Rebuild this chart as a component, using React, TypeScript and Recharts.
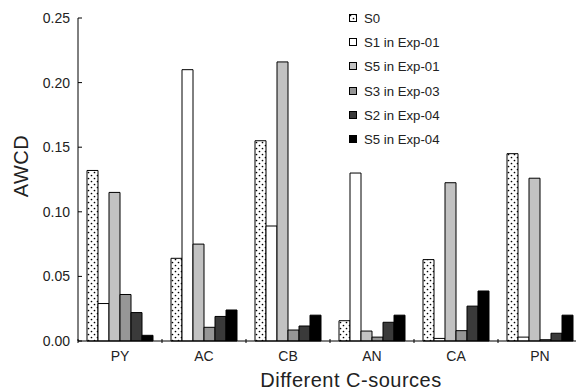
import React from "react";
import { BarChart, Bar, XAxis, YAxis } from "recharts";

const categories = ["PY", "AC", "CB", "AN", "CA", "PN"];
const s0 = [0.132, 0.064, 0.155, 0.0157, 0.063, 0.145];
const s1Exp01 = [0.029, 0.21, 0.089, 0.13, 0.002, 0.003];
const s5Exp01 = [0.115, 0.075, 0.216, 0.0077, 0.1225, 0.126];
const s3Exp03 = [0.036, 0.0106, 0.0085, 0.003, 0.008, 0.001];
const s2Exp04 = [0.022, 0.019, 0.0116, 0.0145, 0.027, 0.006];
const s5Exp04 = [0.0044, 0.024, 0.02, 0.02, 0.0387, 0.02];
const yTicks = [0, 0.05, 0.1, 0.15, 0.2, 0.25];

const seriesDefs = [
  { key: "s0", name: "S0", fill: "url(#dots)", values: s0 },
  { key: "s1", name: "S1 in Exp-01", fill: "#ffffff", values: s1Exp01 },
  { key: "s5a", name: "S5 in Exp-01", fill: "#c2c2c2", values: s5Exp01 },
  { key: "s3", name: "S3 in Exp-03", fill: "#969696", values: s3Exp03 },
  { key: "s2", name: "S2 in Exp-04", fill: "#3a3a3a", values: s2Exp04 },
  { key: "s5b", name: "S5 in Exp-04", fill: "#000000", values: s5Exp04 },
];

const data = categories.map((c, i) => {
  const row: any = { cat: c };
  seriesDefs.forEach((s) => (row[s.key] = s.values[i]));
  return row;
});

const FONT = "Liberation Sans, Arial, Helvetica, sans-serif";
const CHART_W = 600;
const CHART_H = 390;
const M_LEFT = 78;
const M_RIGHT = 18;
const BAND = (CHART_W - M_LEFT - M_RIGHT) / categories.length;

const XTick = (props: any) => {
  const { x, y, payload } = props;
  const bx = x - BAND / 2;
  return (
    <g>
      <line x1={bx} x2={bx} y1={y} y2={y - 4} stroke="#000" strokeWidth={1} />
      <text x={x} y={y + 18} textAnchor="middle" fontSize={14} fontFamily={FONT} fill="#222">
        {payload.value}
      </text>
    </g>
  );
};

const YTick = (props: any) => {
  const { x, y, payload } = props;
  return (
    <g>
      <line x1={M_LEFT} x2={M_LEFT + 4} y1={y} y2={y} stroke="#000" strokeWidth={1} />
      <text x={x} y={y + 5} textAnchor="end" fontSize={14} fontFamily={FONT} fill="#222">
        {payload.value.toFixed(2)}
      </text>
    </g>
  );
};

const XTitle = () => (
  <text
    x={351}
    y={387}
    textAnchor="middle"
    fontSize={20}
    letterSpacing={0.5}
    fontFamily={FONT}
    fill="#222"
  >
    Different C-sources
  </text>
);

const YTitle = () => (
  <text
    x={28}
    y={166}
    transform="rotate(-90 28 166)"
    textAnchor="middle"
    fontSize={20}
    letterSpacing={0.5}
    fontFamily={FONT}
    fill="#222"
  >
    AWCD
  </text>
);

const LegendBox = () => (
  <div
    style={{
      position: "absolute",
      left: 349,
      top: 6,
      fontFamily: FONT,
      fontSize: 13.2,
      color: "#222",
    }}
  >
    {seriesDefs.map((s) => (
      <div key={s.key} style={{ display: "flex", alignItems: "center", height: 24.3 }}>
        <svg width={9} height={9} style={{ marginRight: 6 }}>
          <rect x={0.5} y={0.5} width={7} height={7} fill={s.fill} stroke="#000" strokeWidth={1} />
        </svg>
        <span>{s.name}</span>
      </div>
    ))}
  </div>
);

export default function App() {
  return (
    <div
      style={{
        position: "fixed",
        left: 0,
        top: 0,
        width: 576,
        height: 390,
        overflow: "hidden",
        background: "#fff",
      }}
    >
      <BarChart
        width={CHART_W}
        height={CHART_H}
        data={data}
        margin={{ top: 18, right: M_RIGHT, bottom: 0, left: 0 }}
        barCategoryGap={9}
        barGap={0}
      >
        <defs>
          <pattern id="dots" width={6} height={6} patternUnits="userSpaceOnUse">
            <rect width={6} height={6} fill="#fff" />
            <circle cx={1.5} cy={1.5} r={0.85} fill="#000" />
            <circle cx={4.5} cy={4.5} r={0.85} fill="#000" />
          </pattern>
        </defs>
        <XAxis
          dataKey="cat"
          height={49}
          tickLine={false}
          tickSize={0}
          tick={<XTick />}
          axisLine={{ stroke: "#000" }}
          interval={0}
          label={<XTitle />}
        />
        <YAxis
          width={M_LEFT}
          domain={[0, 0.25]}
          ticks={yTicks}
          tickLine={false}
          tickSize={0}
          tickMargin={8}
          tick={<YTick />}
          axisLine={{ stroke: "#000" }}
          label={<YTitle />}
        />
        {seriesDefs.map((s) => (
          <Bar
            key={s.key}
            dataKey={s.key}
            name={s.name}
            fill={s.fill}
            stroke="#000"
            strokeWidth={1}
            isAnimationActive={false}
          />
        ))}
      </BarChart>
      <LegendBox />
    </div>
  );
}
